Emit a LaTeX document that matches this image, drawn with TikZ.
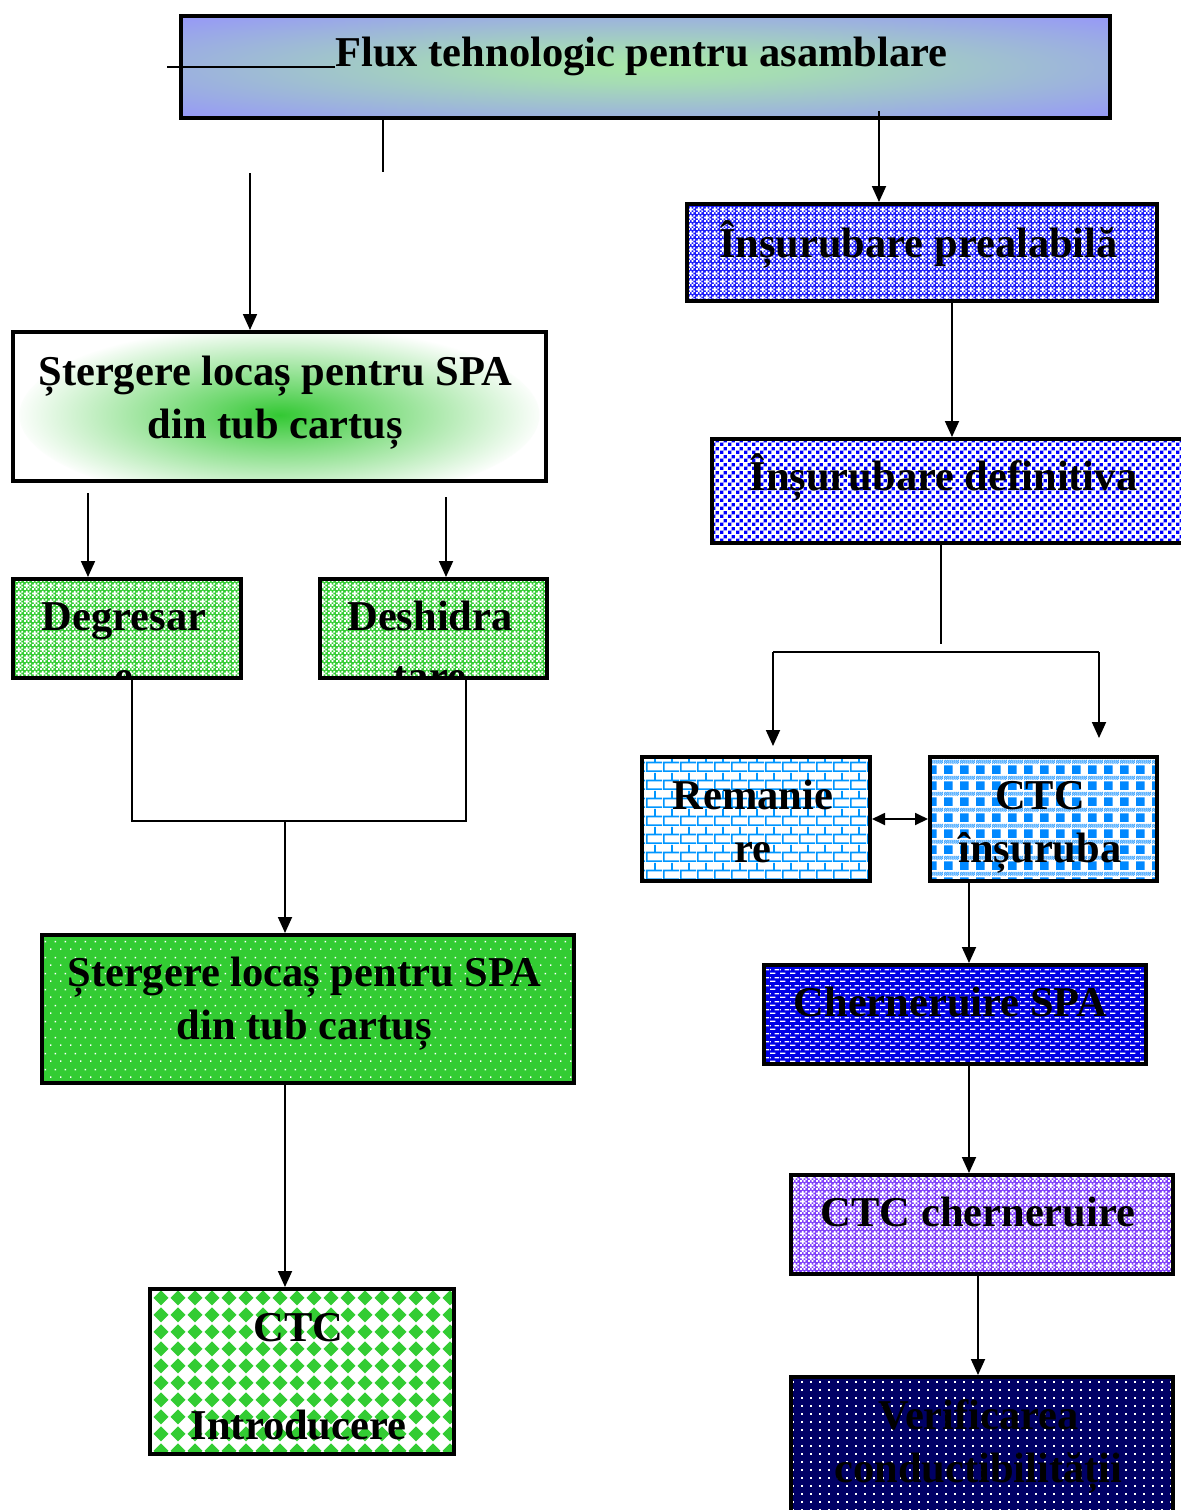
\documentclass[tikz,border=0pt]{standalone}
\usepackage{fontspec}
\setmainfont{Liberation Serif}
\usetikzlibrary{arrows.meta,patterns}

\definecolor{titleblue}{RGB}{150,150,250}
\definecolor{titlegreen}{RGB}{168,232,168}
\definecolor{glowgreen}{RGB}{51,200,51}
\definecolor{prealblue}{RGB}{25,25,250}
\definecolor{defblue}{RGB}{0,0,255}
\definecolor{limegreen}{RGB}{51,204,51}
\definecolor{brickblue}{RGB}{0,150,255}
\definecolor{ginghamblue}{RGB}{0,136,255}
\definecolor{chernblue}{RGB}{0,0,230}
\definecolor{ctcviolet}{RGB}{125,60,250}
\definecolor{verifnavy}{RGB}{0,0,102}

\newcommand\patsq[4]{\pgfpathrectangle{\pgfpoint{#1pt}{#2pt}}{\pgfpoint{#3pt}{#4pt}}}
\newcommand\tstrut{\rule[-6pt]{0pt}{25pt}}

% patterns of the boxes
\pgfdeclarepatternformonly{checkcross}{\pgfpointorigin}{\pgfqpoint{4pt}{4pt}}{\pgfqpoint{4pt}{4pt}}{%
  \patsq{0}{0}{1}{1}\patsq{2}{0}{1}{1}\patsq{1}{1}{1}{1}\patsq{3}{1}{1}{1}%
  \patsq{0}{2}{1}{1}\patsq{2}{2}{1}{1}\patsq{1}{3}{1}{1}\patsq{3}{3}{1}{1}%
  \patsq{1}{2}{1}{1}\pgfusepath{fill}}
\pgfdeclarepatternformonly{sqdots}{\pgfpointorigin}{\pgfqpoint{4pt}{4pt}}{\pgfqpoint{4pt}{4pt}}{%
  \patsq{0}{0}{1.9}{1.9}\patsq{2}{2}{1.9}{1.9}\pgfusepath{fill}}
\pgfdeclarepatternformonly{brickwall}{\pgfpointorigin}{\pgfqpoint{8.5pt}{9pt}}{\pgfqpoint{8.5pt}{9pt}}{%
  \patsq{0}{0}{8.5}{0.9}\patsq{0}{4.5}{8.5}{0.9}\patsq{0}{0}{0.9}{4.5}\patsq{4.25}{4.5}{0.9}{4.5}\pgfusepath{fill}}
\pgfdeclarepatternformonly{gingham}{\pgfpointorigin}{\pgfqpoint{8pt}{8pt}}{\pgfqpoint{8pt}{8pt}}{%
  \patsq{0}{0}{4.5}{4.5}\pgfusepath{fill}%
  \foreach \k in {0,...,7}{\patsq{\k}{5.5}{0.5}{0.5}\patsq{\k.5}{6}{0.5}{0.5}%
    \patsq{\k}{6.5}{0.5}{0.5}\patsq{\k.5}{7}{0.5}{0.5}\pgfusepath{fill}}}
\pgfdeclarepatternformonly{dashes}{\pgfpointorigin}{\pgfqpoint{5pt}{4pt}}{\pgfqpoint{5pt}{4pt}}{%
  \patsq{0}{0}{3}{0.7}\patsq{2.5}{2}{2.5}{0.7}\patsq{0}{2}{0.5}{0.7}\pgfusepath{fill}}
\pgfdeclarepatternformonly{navydots}{\pgfpointorigin}{\pgfqpoint{4.5pt}{4pt}}{\pgfqpoint{4.5pt}{4pt}}{%
  \patsq{0}{0}{1}{1}\pgfusepath{fill}}
\pgfdeclarepatternformonly{greendots}{\pgfpointorigin}{\pgfqpoint{5pt}{8pt}}{\pgfqpoint{5pt}{8pt}}{%
  \patsq{0}{0}{0.8}{0.8}\patsq{2.5}{4}{0.8}{0.8}\pgfusepath{fill}}
\pgfdeclarepatternformonly{diamonds}{\pgfpointorigin}{\pgfqpoint{8.5pt}{8.5pt}}{\pgfqpoint{8.5pt}{8.5pt}}{%
  \pgfpathmoveto{\pgfpoint{4.25pt}{0.3pt}}\pgfpathlineto{\pgfpoint{8.2pt}{4.25pt}}%
  \pgfpathlineto{\pgfpoint{4.25pt}{8.2pt}}\pgfpathlineto{\pgfpoint{0.3pt}{4.25pt}}%
  \pgfpathclose\pgfusepath{fill}}

\pgfdeclareradialshading{titleglow}{\pgfpoint{0bp}{0bp}}{color(0bp)=(titlegreen); color(8bp)=(titlegreen!85!titleblue); color(36bp)=(titleblue); color(50bp)=(titleblue)}
\pgfdeclareradialshading{greenglow}{\pgfpoint{0bp}{0bp}}{color(0bp)=(glowgreen); color(7bp)=(glowgreen!70!white); color(25bp)=(white); color(50bp)=(white)}

\tikzset{
  stepbox/.style={draw, line width=2pt, inner sep=0pt},
  boxsize/.style 2 args={minimum width=#1pt, minimum height=#2pt},
  patfill/.style n args={3}{preaction={fill=#1}, pattern=#2, pattern color=#3},
  lbl/.style={anchor=north, inner sep=0pt, align=center, font=\fontsize{21.25pt}{26.5pt}\selectfont\bfseries},
  conn/.style={line width=0.9pt},
  arr/.style={conn, -{Triangle[length=8pt,width=7pt]}}
}

\begin{document}
\begin{tikzpicture}[x=0.5pt, y=-0.5pt]
  \useasboundingbox (0,0) rectangle (1181,1510);
  \fill[white] (0,0) rectangle (1181,1510);

  % boxes
  \node[stepbox, boxsize={464.5}{51}, shade, shading=titleglow] (flux) at (645.5,67) {};
  \node[stepbox, boxsize={235}{48.5}, patfill={prealblue}{checkcross}{white}] (preal) at (922,252.5) {};
  \node[stepbox, boxsize={240}{52}, patfill={white}{sqdots}{defblue}] (defin) at (952,491) {};
  \node[stepbox, boxsize={266.5}{74.5}, fill=white,
        path picture={\shade[shading=greenglow] ([yshift=-4.25pt]path picture bounding box.center) ellipse (130pt and 45pt);}] (sterg1) at (279.5,406.5) {};
  \node[stepbox, boxsize={114}{49.5}, patfill={limegreen}{checkcross}{white}] (degr) at (127,628.5) {};
  \node[stepbox, boxsize={113.5}{49.5}, patfill={limegreen}{checkcross}{white}] (deshid) at (433.5,628.5) {};
  \node[stepbox, boxsize={114}{62}, patfill={white}{brickwall}{brickblue}] (rem) at (756,819) {};
  \node[stepbox, boxsize={113.5}{62}, patfill={white}{gingham}{ginghamblue}] (ctcins) at (1043.5,819) {};
  \node[stepbox, boxsize={191}{49.5}, patfill={chernblue}{dashes}{white}] (chern) at (955,1014.5) {};
  \node[stepbox, boxsize={191}{49.5}, patfill={ctcviolet}{checkcross}{white}] (ctcch) at (982,1224.5) {};
  \node[stepbox, boxsize={191}{75.5}, patfill={verifnavy}{navydots}{white}] (verif) at (982,1452.5) {};
  \node[stepbox, boxsize={266}{74}, patfill={limegreen}{greendots}{white}] (sterg2) at (308,1009) {};
  \node[stepbox, boxsize={152}{82.5}, patfill={white}{diamonds}{limegreen}] (ctcintro) at (302,1371.5) {};

  % texts
  \node[lbl] (fluxtxt) at (641.5,28) {\tstrut Flux tehnologic pentru asamblare};
  \node[lbl] (prealtxt) at (918.5,219) {\tstrut Înșurubare prealabilă};
  \node[lbl] (defintxt) at (943.5,452) {\tstrut Înșurubare definitiva};
  \node[lbl] (sterg1txt) at (275.5,347) {\tstrut Ștergere locaș pentru SPA\\\tstrut din tub cartuș};
  \begin{scope}
    \clip ([yshift=1pt]degr.south west) rectangle (degr.north east);
    \node[lbl] (degrtxt) at (124,592) {\tstrut Degresar\\[3.5pt]\tstrut e};
  \end{scope}
  \begin{scope}
    \clip ([yshift=1pt]deshid.south west) rectangle (deshid.north east);
    \node[lbl] (deshidtxt) at (430,592) {\tstrut Deshidra\\[3.5pt]\tstrut tare};
  \end{scope}
  \node[lbl] (remtxt) at (753,771) {\tstrut Remanie\\\tstrut re};
  \node[lbl] (ctcinstxt) at (1040,771) {\tstrut CTC\\\tstrut înșuruba};
  \node[lbl] (cherntxt) at (950.5,978) {\tstrut Cherneruire SPA};
  \node[lbl] (ctcchtxt) at (978,1188) {\tstrut CTC cherneruire};
  \node[lbl] (veriftxt) at (978.5,1391) {\tstrut Verificarea\\\tstrut conductibilității};
  \node[lbl] (sterg2txt) at (304.5,948) {\tstrut Ștergere locaș pentru SPA\\\tstrut din tub cartuș};
  \node[lbl] (ctcintrotxt) at (298.5,1303) {\tstrut CTC\\[22.5pt]\tstrut Introducere};

  % free ends of the connectors
  \coordinate (strayL) at (167,67);
  \coordinate (stubA) at (383,172);
  \coordinate (stubB) at (250,173);
  \coordinate (stubC) at (879,111);
  \coordinate (split) at (941,644);
  \coordinate (brL) at (773,652);
  \coordinate (brR) at (1099,652);
  \coordinate (colC) at (969,920);
  \coordinate (colD) at (978,1320);
  \coordinate (stubE) at (88,493);
  \coordinate (stubF) at (446,497);
  \coordinate (joinL) at (132,821);
  \coordinate (joinR) at (466,821);
  \coordinate (joinM) at (285,821);

  % connectors
  \draw[conn] (strayL) -- (strayL -| fluxtxt.west);
  \draw[conn] (flux.south -| stubA) -- (stubA);
  \draw[arr] (stubB) -- (stubB |- sterg1.north);
  \draw[arr] (stubC) -- (stubC |- preal.north);
  \draw[arr] (preal.south -| defin.north) -- (defin.north);
  \draw[conn] (defin.south -| split) -- (split);
  \draw[conn] (brL) -- (brR);
  \draw[arr, shorten >=4.5pt] (brL) -- (brL |- rem.north);
  \draw[arr, shorten >=8.5pt] (brR) -- (brR |- ctcins.north);
  \draw[conn, {Triangle[length=6.5pt,width=6pt]}-{Triangle[length=6.5pt,width=6pt]}] (rem.east) -- (ctcins.west);
  \draw[arr] (colC |- ctcins.south) -- (colC |- chern.north);
  \draw[arr] (colC |- chern.south) -- (colC |- ctcch.north);
  \draw[arr] (colD |- ctcch.south) -- (colD |- verif.north);
  \draw[arr] (stubE) -- (stubE |- degr.north);
  \draw[arr] (stubF) -- (stubF |- deshid.north);
  \draw[conn] (degr.south -| joinL) -- (joinL) -- (joinR) -- (deshid.south -| joinR);
  \draw[arr] (joinM) -- (joinM |- sterg2.north);
  \draw[arr] (joinM |- sterg2.south) -- (joinM |- ctcintro.north);
\end{tikzpicture}
\end{document}
